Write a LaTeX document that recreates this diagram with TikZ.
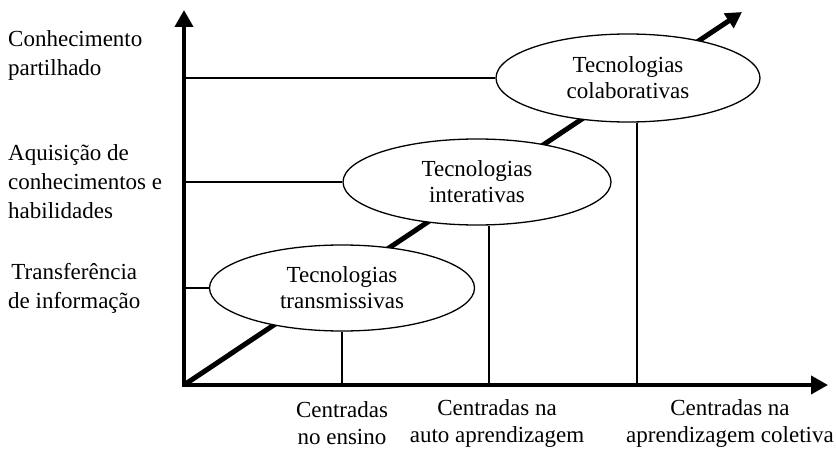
\documentclass[tikz,border=0pt]{standalone}
\usepackage{fontspec}
\setmainfont{Liberation Serif}
\usetikzlibrary{arrows.meta,shapes.geometric}
\begin{document}
\begin{tikzpicture}[x=1pt,y=-1pt,
  axis/.style={line width=4pt,-{Triangle[length=17pt,width=18pt]}},
  diag/.style={line width=5pt,-{Triangle[length=16pt,width=17pt]}},
  thin/.style={line width=1.3pt},
  tech/.style={ellipse,draw,line width=1.3pt,fill=white,inner sep=0pt,align=center,
    font=\fontsize{23}{26}\selectfont},
  lab/.style={align=left,anchor=west,inner sep=0pt,font=\fontsize{23}{29}\selectfont},
  blab/.style={align=center,inner sep=0pt,font=\fontsize{23}{27}\selectfont}]
\useasboundingbox (0,0) rectangle (836,452);
\coordinate (O) at (184,385);
\coordinate (ytip) at (184,10);
\coordinate (xtip) at (828,385);
\coordinate (dtip) at (742,12);
\draw[diag] (O) -- (dtip);
\draw[axis] (184,387) -- (ytip);
\draw[axis] (182,385) -- (xtip);
\node[tech,minimum width=265pt,minimum height=86pt] (T1) at (342,288) {Tecnologias\\transmissivas};
\node[tech,minimum width=268pt,minimum height=86pt] (T2) at (477,182) {Tecnologias\\interativas};
\node[tech,minimum width=264pt,minimum height=88pt] (T3) at (628,78) {Tecnologias\\colaborativas};
\coordinate (h1) at (184,288);
\coordinate (h2) at (184,182);
\coordinate (h3) at (184,78);
\coordinate (a1) at (342,385);
\coordinate (a2) at (489,385);
\coordinate (a3) at (637,385);
\draw[thin] (h1) -- (T1.west);
\draw[thin] (h2) -- (T2.west);
\draw[thin] (h3) -- (T3.west);
\draw[thin] (T1.south -| a1) -- (a1);
\draw[thin] ([yshift=-0.5pt]T2.south -| a2) -- (a2);
\draw[thin] ([yshift=-0.5pt]T3.south -| a3) -- (a3);
\node[lab] (L3) at (8,55) {Conhecimento\\partilhado};
\node[lab] (L2) at (8,182) {Aquisição de\\conhecimentos e\\habilidades};
\node[lab,align=center] (L1) at (8,288) {Transferência\\de informação};
\node[blab] (B1) at (342,423) {Centradas\\no ensino};
\node[blab] (B2) at (497,423) {Centradas na\\auto aprendizagem};
\node[blab] (B3) at (730,423) {Centradas na\\aprendizagem coletiva};
\end{tikzpicture}
\end{document}
